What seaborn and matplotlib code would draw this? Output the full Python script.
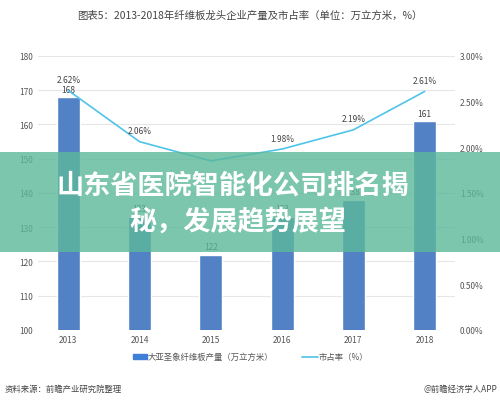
import matplotlib
matplotlib.use("Agg")
from matplotlib import pyplot as plt
from matplotlib.ticker import FuncFormatter
import seaborn as sns
import pandas as pd
import numpy as np

years = ["2013", "2014", "2015", "2016", "2017", "2018"]
output = [168, 133, 122, 133, 138, 161]
share = [2.62, 2.06, 1.85, 1.98, 2.19, 2.61]
share_labels = ["2.62%", "2.06%", "", "1.98%", "2.19%", "2.61%"]

sns.set_style("white")
plt.rcParams["font.family"] = ["Noto Sans CJK SC", "DejaVu Sans"]

df = pd.DataFrame({"year": years, "output": output, "share": share})

fig = plt.figure(figsize=(5.0, 4.06), dpi=100)
ax = fig.add_axes([0.076, 0.185, 0.834, 0.675])
sns.barplot(data=df, x="year", y="output", color="#3f7fd8", width=0.32, ax=ax)
ax.set_ylim(100, 180)
ax.set_yticks(range(100, 181, 10))
ax.set_xlabel("")
ax.set_ylabel("")
ax.grid(axis="y", color="#e6e6e6", linewidth=0.8)
ax.set_axisbelow(True)
for s in ax.spines.values():
    s.set_visible(False)
ax.tick_params(labelsize=6, colors="#555555", length=0)
for i, v in enumerate(output):
    ax.text(i, v + 1, str(v), ha="center", va="bottom", fontsize=6, color="#444444")

ax2 = ax.twinx()
x = np.arange(len(years))
ax2.plot(x, share, color="#4fc3e8", linewidth=1.2)
ax2.set_ylim(0, 3.0)
ax2.set_yticks(np.arange(0, 3.01, 0.5))
ax2.yaxis.set_major_formatter(FuncFormatter(lambda v, p: f"{v:.2f}%"))
ax2.tick_params(labelsize=6, colors="#555555", length=0)
for s in ax2.spines.values():
    s.set_visible(False)
for i, (v, lab) in enumerate(zip(share, share_labels)):
    if lab:
        ax2.text(i, v + 0.07, lab, ha="center", va="bottom", fontsize=6, color="#444444")

fig.text(0.5, 0.962, "图表5：2013-2018年纤维板龙头企业产量及市占率（单位：万立方米，%）",
         ha="center", va="center", fontsize=7.5, color="#444444")

# legend
fig.patches.append(plt.Rectangle((0.266, 0.113), 0.028, 0.012, transform=fig.transFigure,
                                 color="#3f7fd8"))
fig.text(0.296, 0.119, "大亚圣象纤维板产量（万立方米）", fontsize=6, va="center", color="#555555")
fig.lines.append(plt.Line2D([0.604, 0.636], [0.119, 0.119], transform=fig.transFigure,
                            color="#4fc3e8", linewidth=1.2))
fig.text(0.638, 0.119, "市占率（%）", fontsize=6, va="center", color="#555555")

fig.text(0.01, 0.035, "资料来源：前瞻产业研究院整理", fontsize=6, style="italic", color="#444444")
fig.text(0.995, 0.035, "@前瞻经济学人APP", fontsize=6, ha="right", color="#444444")

# banner
fig.patches.append(plt.Rectangle((0, 0.378), 1, 0.246, transform=fig.transFigure,
                                 facecolor="#5bb89a", edgecolor="none", alpha=0.8, zorder=10))
fig.text(0.112, 0.543, "山东省医院智能化公司排名揭", ha="left", va="center", fontsize=19.5,
         fontweight="bold", color="white", zorder=11)
fig.text(0.258, 0.455, "秘，发展趋势展望", ha="left", va="center", fontsize=19.5,
         fontweight="bold", color="white", zorder=11)

fig.savefig("out.png", dpi=100)
